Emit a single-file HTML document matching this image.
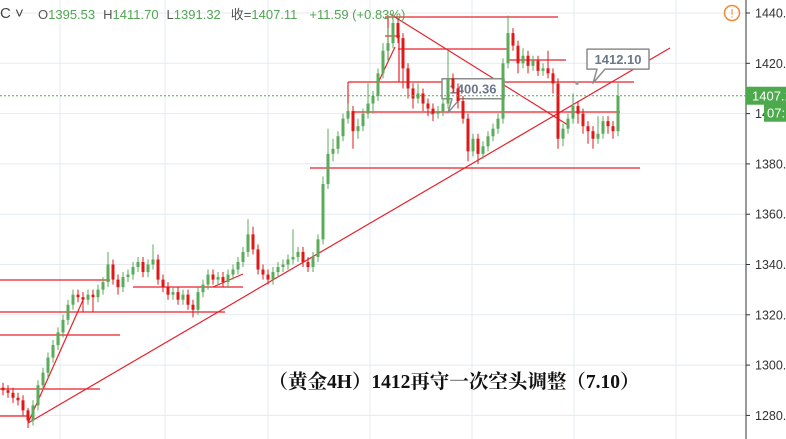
<!DOCTYPE html>
<html><head><meta charset="utf-8">
<style>
body{margin:0;background:#fff;}
svg{display:block;font-family:"Liberation Sans","Noto Sans CJK SC",sans-serif;}
</style></head>
<body>
<svg id="chart" width="786" height="439" viewBox="0 0 786 439" xmlns="http://www.w3.org/2000/svg">
<g id="grid"></g>
<g id="ann"></g>
<g id="candles"></g>
<g id="axis"></g>
<g id="header">
<text x="0" y="18" font-size="15" fill="#444">C ˅</text>
<text x="38" y="19" font-size="13"><tspan fill="#555">O</tspan><tspan fill="#53a553">1395.53</tspan><tspan fill="#555" dx="8">H</tspan><tspan fill="#53a553">1411.70</tspan><tspan fill="#555" dx="8">L</tspan><tspan fill="#53a553">1391.32</tspan><tspan fill="#555" dx="10">收=</tspan><tspan fill="#53a553">1407.11</tspan><tspan fill="#53a553" dx="12">+11.59 (+0.83%)</tspan></text>
</g>
<g><circle cx="732" cy="13" r="7.5" fill="none" stroke="#f0883a" stroke-width="1.5"/><text x="732" y="17.5" font-size="12" fill="#f0883a" text-anchor="middle">!</text></g>
<text x="454" y="388" font-size="19.5" font-weight="bold" text-anchor="middle" fill="#111" style="font-family:'Liberation Serif','Noto Serif CJK SC',serif">（黄金4H）1412再守一次空头调整（7.10）</text>
</svg>
<script>
const opens=[1291,1290,1289,1287,1286,1282,1278,1284,1292,1297,1303,1308,1313,1318,1324,1328,1327,1326,1328,1327,1330,1333,1340,1334,1331,1335,1336,1339,1341,1337,1340,1342,1334,1331,1328,1329,1326,1328,1324,1322,1329,1332,1336,1334,1335,1333,1336,1338,1341,1345,1352,1346,1338,1336,1334,1337,1339,1340,1342,1343,1345,1341,1339,1343,1350,1372,1384,1386,1391,1398,1401,1393,1395,1400,1404,1407,1416,1425,1428,1436,1430,1418,1410,1406,1408,1404,1402,1400,1401,1404,1414,1410,1405,1398,1385,1390,1384,1387,1391,1394,1398,1420,1432,1427,1420,1423,1419,1421,1417,1418,1416,1412,1390,1394,1398,1403,1400,1395,1393,1390,1392,1397,1395,1393];
const closes=[1290,1289,1287,1286,1282,1278,1284,1292,1297,1303,1308,1313,1318,1324,1328,1327,1326,1328,1327,1330,1333,1340,1334,1331,1335,1336,1339,1341,1337,1340,1342,1334,1331,1328,1329,1326,1328,1324,1322,1329,1332,1336,1334,1335,1333,1336,1338,1341,1345,1352,1346,1338,1336,1334,1337,1339,1340,1342,1343,1345,1341,1339,1343,1350,1372,1384,1386,1391,1398,1401,1393,1395,1400,1404,1407,1416,1425,1428,1436,1430,1418,1410,1406,1408,1404,1402,1400,1401,1404,1414,1410,1405,1398,1385,1390,1384,1387,1391,1394,1398,1420,1432,1427,1420,1423,1419,1421,1417,1418,1416,1412,1390,1394,1398,1403,1400,1395,1393,1390,1392,1397,1395,1393,1407];
const highs=[1293,1292,1291,1289,1288,1283,1286,1294,1299,1305,1310,1315,1320,1326,1330,1330,1329,1330,1330,1332,1335,1345,1342,1336,1337,1338,1341,1343,1343,1342,1348,1344,1336,1333,1331,1331,1330,1330,1326,1331,1334,1338,1338,1337,1337,1338,1340,1343,1347,1358,1355,1348,1340,1338,1339,1341,1342,1344,1354,1347,1347,1343,1345,1352,1375,1394,1390,1393,1400,1404,1403,1398,1402,1412,1409,1418,1428,1434,1440,1438,1432,1420,1412,1412,1410,1406,1404,1403,1406,1425,1416,1412,1407,1400,1392,1392,1389,1393,1396,1400,1422,1439,1434,1429,1426,1425,1423,1423,1420,1425,1418,1414,1396,1400,1408,1405,1402,1397,1395,1399,1399,1399,1397,1412];
const lows=[1288,1287,1285,1284,1280,1275,1276,1282,1290,1295,1301,1306,1311,1316,1322,1325,1321,1324,1321,1325,1328,1331,1332,1328,1329,1333,1334,1337,1335,1335,1338,1332,1329,1326,1326,1324,1324,1322,1319,1320,1327,1330,1332,1332,1331,1331,1334,1336,1339,1343,1344,1336,1334,1332,1332,1335,1337,1338,1340,1341,1339,1337,1337,1341,1348,1370,1381,1384,1389,1396,1386,1390,1393,1398,1400,1405,1414,1421,1426,1428,1410,1406,1402,1404,1401,1399,1397,1398,1399,1402,1408,1402,1396,1381,1383,1380,1382,1385,1389,1392,1396,1418,1425,1416,1418,1416,1417,1415,1415,1414,1408,1386,1387,1392,1396,1396,1392,1388,1386,1388,1390,1392,1390,1391];
const priceTicks=[1280,1300,1320,1340,1360,1380,1400,1420,1440];
const lastPrice=1407.11;
const callouts=[{label:"1400.36",idx:86,price:1400.36},{label:"1412.10",idx:115,price:1412.10}];

const NS="http://www.w3.org/2000/svg";
function yScale(p){return 13+(1440-p)*2.515;}
function xScale(i){return 3+i*5;}
function mk(tag,attrs,parent){const e=document.createElementNS(NS,tag);for(const k in attrs)e.setAttribute(k,attrs[k]);parent.appendChild(e);return e;}

const grid=document.getElementById('grid');
[60,165,268,370,472,574,676].forEach(x=>{const l=mk('line',{x1:x,x2:x,y1:0,y2:439,stroke:'#e3ebf1','stroke-width':1},grid);

});
priceTicks.forEach(p=>{const l=mk('line',{x1:0,x2:746,y1:yScale(p),y2:yScale(p),stroke:'#e3ebf1','stroke-width':1},grid);

});

const ann=document.getElementById('ann');
const R='#e8202a';
function seg(x1,y1,x2,y2){const l=mk('line',{x1:x1,y1:y1,x2:x2,y2:y2,stroke:R,'stroke-width':1.2},ann);

}
seg(28,423,670,48);
seg(28,423,83,300);
seg(378,83,395,47);
seg(390,14,568,125);
seg(385,17,558,17);
seg(398,49,508,49);
seg(385,36,400,36);
seg(508,60,566,60);
seg(348,82,634,82);seg(348,82,348,112);
seg(388,17,388,60);seg(399,33,399,82);
seg(353,112,620,112);
seg(310,168,640,168);
seg(0,280,110,280);
seg(0,312,225,312);
seg(0,335,120,335);
seg(0,389,100,389);
seg(0,416,28,416);
seg(133,287,243,287);
seg(213,287,243,274);

const cg=document.getElementById('candles');
for(let i=0;i<closes.length;i++){
 const up=closes[i]>=opens[i];const col=up?'#5aab5a':'#e01818';
 const x=xScale(i);
 const w=mk('line',{x1:x,x2:x,y1:yScale(highs[i]),y2:yScale(lows[i]),stroke:col,'stroke-width':1},cg);
 
 
 const top=yScale(Math.max(opens[i],closes[i])),bot=yScale(Math.min(opens[i],closes[i]));
 const b=mk('rect',{x:x-1.5,y:top,width:3,height:Math.max(1,bot-top),fill:col},cg);
 
 
}

callouts.forEach((c,k)=>{
 const px=xScale(c.idx)-1,py=yScale(c.price);
 const bx=px+10,by=py-34;
 const g=mk('g',{},ann);
 
 
 mk('path',{d:`M${bx} ${by} h62 v20 h-44 l-12 ${py-by-20} l4 ${-(py-by-20)} h-10 z`,fill:'#fff',stroke:'#8c8c8c','stroke-width':1.5,'stroke-linejoin':'round'},g);
 mk('circle',{cx:px,cy:py,r:1.8,fill:'#999'},g);
 const t=mk('text',{x:bx+31,y:by+15,'font-size':13,'font-weight':'bold',fill:'#6b7889','text-anchor':'middle'},g);
 t.textContent=c.label;
});

const ax=document.getElementById('axis');
mk('line',{x1:746,x2:746,y1:0,y2:439,stroke:'#333','stroke-width':1},ax);
priceTicks.forEach(p=>{
 const y=yScale(p);
 mk('line',{x1:746,x2:750,y1:y,y2:y,stroke:'#333'},ax);
 const t=mk('text',{x:755,y:y+4.5,'font-size':12.5,fill:'#333'},ax);
 
 
 t.textContent=p.toFixed(1);
});
const ly=yScale(lastPrice);
const dl=mk('line',{x1:0,x2:746,y1:ly,y2:ly,stroke:'#4caa4c','stroke-width':1,'stroke-dasharray':'2,2'},ax);


const lb=mk('rect',{x:746,y:ly-9,width:40,height:18,fill:'#4caa4c'},ax);


const lt=mk('text',{x:752,y:ly+5,'font-size':13,fill:'#fff'},ax);lt.textContent=lastPrice.toFixed(2);
const cb=mk('rect',{x:764,y:ly+8,width:22,height:18,fill:'#4caa4c'},ax);


const ct=mk('text',{x:767,y:ly+22,'font-size':13,fill:'#fff'},ax);ct.textContent='07:';
</script>
</body></html>
